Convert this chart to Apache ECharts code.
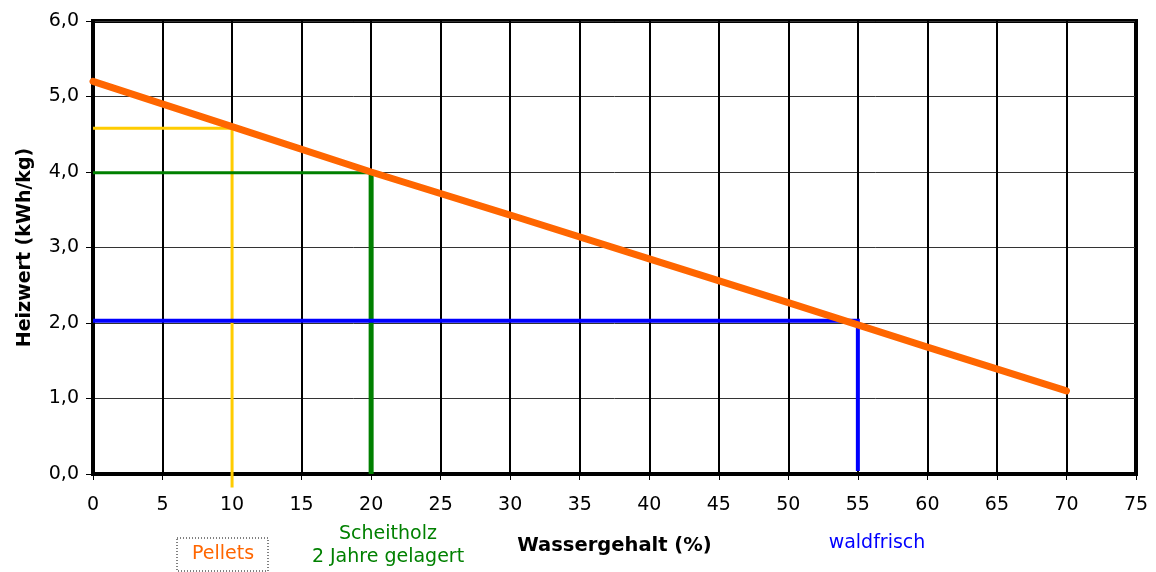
<!DOCTYPE html>
<html>
<head>
<meta charset="utf-8">
<script src="https://cdn.jsdelivr.net/npm/echarts@6/dist/echarts.min.js"></script>
<style>
  html, body { margin: 0; padding: 0; background: #fff; }
  #chart { width: 1156px; height: 572px; }
</style>
</head>
<body>
<div id="chart"></div>
<script>
// Heizwert over Wassergehalt
const wasserGehalt = [0, 10, 20, 30, 40, 50, 60, 70];
const heizwert = [5.2, 4.6, 4.0, 3.43, 2.85, 2.27, 1.68, 1.1];

// marker lines: [x, y] corners
const pelletsLine = [[0, 4.58], [10, 4.58], [10, -0.18]];
const scheitholzH = [[0, 3.99], [20, 3.99]];
const scheitholzV = [[20, 3.99], [20, 0]];
const waldfrischLine = [[0, 2.03], [55, 2.03], [55, 0.04]];

const font = "'DejaVu Sans', sans-serif";

const chart = echarts.init(document.getElementById("chart"));

function markerSeries(data, color, width) {
  return {
    type: "line",
    data: data,
    symbol: "none",
    clip: false,
    lineStyle: { color: color, width: width, join: "miter" },
    z: 3,
  };
}

function label(text, x, y, color) {
  return {
    type: "text",
    x: x,
    y: y,
    style: {
      text: text,
      font: "19px " + font,
      fill: color,
      align: "center",
      verticalAlign: "middle",
      lineHeight: 23,
    },
  };
}

chart.setOption({
  animation: false,
  grid: {
    left: 93,
    right: 20,
    top: 21,
    bottom: 98,
    show: true,
    borderColor: "#000",
    borderWidth: 4,
  },
  xAxis: {
    type: "value",
    min: 0,
    max: 75,
    interval: 5,
    name: "Wassergehalt (%)",
    nameLocation: "middle",
    nameGap: 62,
    nameTextStyle: { fontFamily: font, fontSize: 19.5, fontWeight: "bold", color: "#000" },
    axisLine: { lineStyle: { color: "#000", width: 4 } },
    axisTick: { show: true, length: 6, lineStyle: { color: "#000", width: 1 } },
    axisLabel: { fontFamily: font, fontSize: 19, color: "#000", margin: 22 },
    splitLine: { show: true, lineStyle: { color: "#000", width: 2 } },
  },
  yAxis: {
    type: "value",
    min: 0,
    max: 6,
    interval: 1,
    name: "Heizwert (kWh/kg)",
    nameLocation: "middle",
    nameGap: 58,
    nameTextStyle: { fontFamily: font, fontSize: 19, fontWeight: "bold", color: "#000" },
    axisLine: { show: true, lineStyle: { color: "#000", width: 4 } },
    axisTick: { show: true, length: 7, lineStyle: { color: "#000", width: 1 } },
    axisLabel: {
      fontFamily: font,
      fontSize: 19,
      color: "#000",
      margin: 14,
      formatter: (v) => v.toFixed(1).replace(".", ","),
    },
    splitLine: { show: true, lineStyle: { color: "#333", width: 1 } },
  },
  series: [
    markerSeries(pelletsLine, "#FFCC00", 3),
    markerSeries(scheitholzH, "#008000", 3),
    markerSeries(scheitholzV, "#008000", 5),
    markerSeries(waldfrischLine, "#0000FF", 4),
    {
      type: "line",
      data: wasserGehalt.map((x, i) => [x, heizwert[i]]),
      symbol: "none",
      lineStyle: { color: "#FF6600", width: 7, cap: "round" },
      z: 5,
    },
  ],
  graphic: [
    {
      type: "rect",
      shape: { x: 177, y: 538, width: 91, height: 33 },
      style: { fill: "#fff", stroke: "#000", lineWidth: 1, lineDash: [1, 2] },
    },
    label("Pellets", 223, 554, "#FF6600"),
    label("Scheitholz\n2 Jahre gelagert", 388, 546, "#008000"),
    label("waldfrisch", 877, 543, "#0000FF"),
  ],
});
</script>
</body>
</html>
